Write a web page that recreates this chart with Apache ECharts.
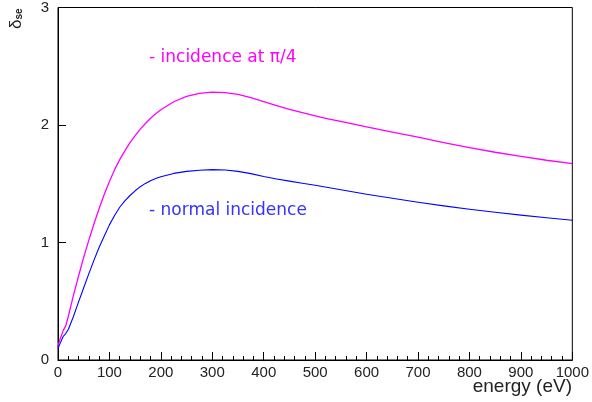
<!DOCTYPE html>
<html><head><meta charset="utf-8">
<script src="https://cdn.jsdelivr.net/npm/echarts@6/dist/echarts.min.js"></script>
<style>html,body{margin:0;padding:0;background:#fff}#c{width:592px;height:402px}</style>
</head><body><div id="c"></div>
<script>
const energy = [0,5,10,15,20,30,40,50,60,70,80,90,100,110,120,130,140,150,160,170,180,190,200,225,250,275,300,325,350,375,400,425,450,475,500,525,550,575,600,650,700,750,800,850,900,950,1000];
const incidencePi4 = [0.12,0.19,0.25,0.29,0.37,0.55,0.715,0.875,1.02,1.16,1.29,1.41,1.52,1.62,1.705,1.78,1.85,1.91,1.965,2.013,2.057,2.095,2.13,2.198,2.243,2.27,2.28,2.275,2.26,2.233,2.198,2.165,2.133,2.105,2.078,2.053,2.03,2.007,1.985,1.94,1.896,1.85,1.808,1.768,1.733,1.70,1.672];
const normalIncidence = [0.1,0.15,0.2,0.225,0.26,0.37,0.495,0.615,0.735,0.85,0.96,1.055,1.15,1.23,1.30,1.355,1.40,1.44,1.475,1.503,1.525,1.544,1.56,1.588,1.605,1.615,1.62,1.617,1.605,1.586,1.562,1.541,1.522,1.504,1.487,1.468,1.449,1.43,1.411,1.376,1.343,1.312,1.283,1.257,1.233,1.211,1.19];
const xTicks = [0,100,200,300,400,500,600,700,800,900,1000];
const yTicks = [0,1,2,3];

const font = 'Liberation Sans';
const chart = echarts.init(document.getElementById('c'), null, {renderer:'canvas'});
chart.setOption({
  animation:false,
  grid:{left:58,right:19,top:7,bottom:42,show:true,borderColor:'#000',borderWidth:1,backgroundColor:'transparent'},
  xAxis:{type:'value',min:0,max:1000,interval:100,
    axisLine:{show:true,lineStyle:{color:'#000',width:1}},
    axisTick:{show:true,inside:true,length:8,lineStyle:{color:'#000'}},
    minorTick:{show:true,splitNumber:5,length:4,lineStyle:{color:'#000'}},
    splitLine:{show:false},
    axisLabel:{color:'#222',fontFamily:font,fontSize:15,margin:5,
      formatter:v=>xTicks.includes(v)?String(v):''}},
  yAxis:{type:'value',min:0,max:3,interval:1,
    axisLine:{show:true,lineStyle:{color:'#000',width:1}},
    axisTick:{show:true,inside:true,length:8,lineStyle:{color:'#000'}},
    splitLine:{show:false},
    axisLabel:{color:'#222',fontFamily:font,fontSize:15,margin:9,
      formatter:v=>yTicks.includes(v)?String(v):''}},
  series:[
    {type:'line',data:energy.map((e,i)=>[e,incidencePi4[i]]),showSymbol:false,smooth:false,
      lineStyle:{color:'#ff00ff',width:1.3,join:'round'}},
    {type:'line',data:energy.map((e,i)=>[e,normalIncidence[i]]),showSymbol:false,smooth:false,
      lineStyle:{color:'#0000ff',width:1.1,join:'round'}}
  ],
  graphic:[
    {type:'text',left:149,top:49,style:{text:'- incidence at π/4',fill:'#ff00ff',font:'17px "DejaVu Sans"'}},
    {type:'text',left:149,top:202,style:{text:'- normal incidence',fill:'#3333ff',font:'17px "DejaVu Sans"'}},
    {type:'text',right:20,top:377,style:{text:'energy (eV)',fill:'#222',font:'19px "Liberation Sans"'}},
    {type:'text',x:16,y:29,rotation:Math.PI/2,
      style:{text:'{d|δ}{s|se}',fill:'#222',align:'left',verticalAlign:'middle',
        rich:{d:{fontSize:17,fontFamily:font,fill:'#222'},s:{fontSize:10,fontFamily:font,fill:'#222',fontWeight:'bold',padding:[7,0,0,0]}}}}
  ]
});
</script></body></html>
